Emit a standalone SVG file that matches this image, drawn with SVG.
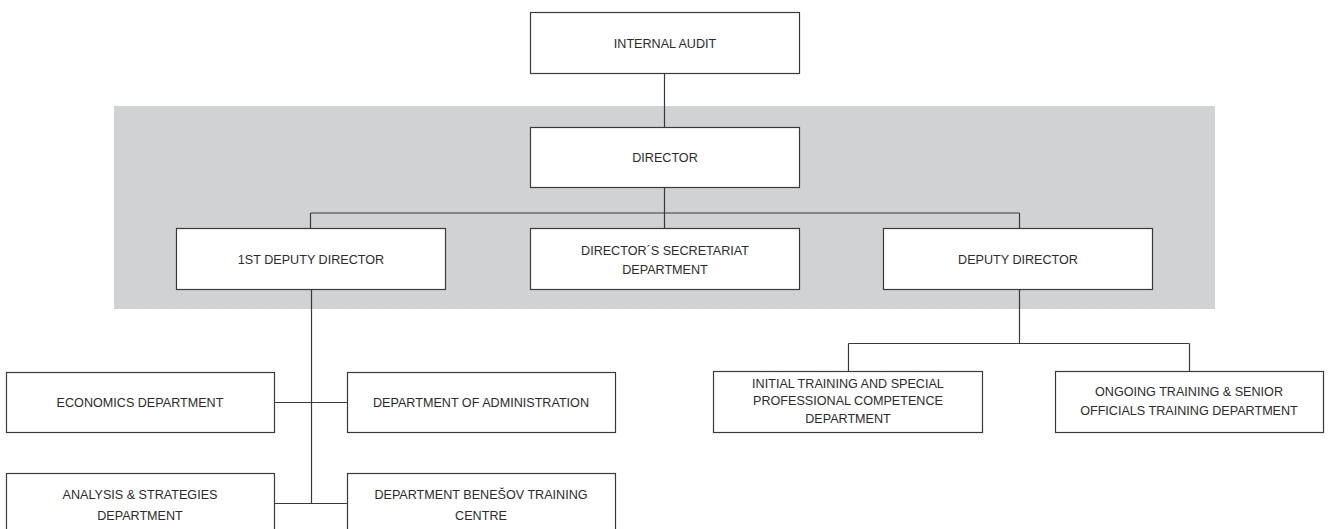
<svg xmlns="http://www.w3.org/2000/svg" width="1331" height="529" viewBox="0 0 1331 529">
<style>
.box{fill:#fff;stroke:#3a3a3a;stroke-width:1.2}
.t{font-family:"Liberation Sans",Arial,sans-serif;font-size:12.6px;fill:#2b2b2b;text-anchor:middle}
.c{fill:none;stroke:#3a3a3a;stroke-width:1.2}
</style>
<rect x="114" y="106" width="1101" height="203" fill="#d1d2d4"/>
<g id="connectors">
<path class="c" d="M664.5 73V127"/>
<path class="c" d="M664.5 187V213M310.5 213H1019.5M310.5 213V228M664.5 213V228M1019.5 213V228"/>
<path class="c" d="M311.5 289V504M274 402.5H347M274 503.5H347"/>
<path class="c" d="M1019.5 289V343.5M848.5 343.5H1189.5M848.5 343.5V371M1189.5 343.5V371"/>
</g>
<g id="internal-audit"><rect class="box" x="530.5" y="12.5" width="269" height="61"/><text class="t" x="665" y="47.5">INTERNAL AUDIT</text></g>
<g id="director"><rect class="box" x="530.5" y="127.5" width="269" height="60"/><text class="t" x="665" y="161.5">DIRECTOR</text></g>
<g id="first-deputy"><rect class="box" x="176.5" y="228.5" width="269" height="61"/><text class="t" x="311" y="263.5">1ST DEPUTY DIRECTOR</text></g>
<g id="secretariat"><rect class="box" x="530.5" y="228.5" width="269" height="61"/><text class="t" x="665" y="255">DIRECTOR´S SECRETARIAT</text><text class="t" x="665" y="274">DEPARTMENT</text></g>
<g id="deputy"><rect class="box" x="883.5" y="228.5" width="269" height="61"/><text class="t" x="1018" y="263.5">DEPUTY DIRECTOR</text></g>
<g id="economics"><rect class="box" x="6.5" y="372.5" width="268" height="60"/><text class="t" x="140" y="406.5">ECONOMICS DEPARTMENT</text></g>
<g id="administration"><rect class="box" x="347.5" y="372.5" width="268" height="60"/><text class="t" x="481" y="406.5">DEPARTMENT OF ADMINISTRATION</text></g>
<g id="analysis"><rect class="box" x="6.5" y="473.5" width="268" height="70"/><text class="t" x="140" y="499">ANALYSIS &amp; STRATEGIES</text><text class="t" x="140" y="520">DEPARTMENT</text></g>
<g id="benesov"><rect class="box" x="347.5" y="473.5" width="268" height="70"/><text class="t" x="481" y="499">DEPARTMENT BENEŠOV TRAINING</text><text class="t" x="481" y="520">CENTRE</text></g>
<g id="initial-training"><rect class="box" x="713.5" y="371.5" width="269" height="61"/><text class="t" x="848" y="387.5">INITIAL TRAINING AND SPECIAL</text><text class="t" x="848" y="405">PROFESSIONAL COMPETENCE</text><text class="t" x="848" y="422.5">DEPARTMENT</text></g>
<g id="ongoing-training"><rect class="box" x="1055.5" y="371.5" width="268" height="61"/><text class="t" x="1189" y="396">ONGOING TRAINING &amp; SENIOR</text><text class="t" x="1189" y="415">OFFICIALS TRAINING DEPARTMENT</text></g>
</svg>
